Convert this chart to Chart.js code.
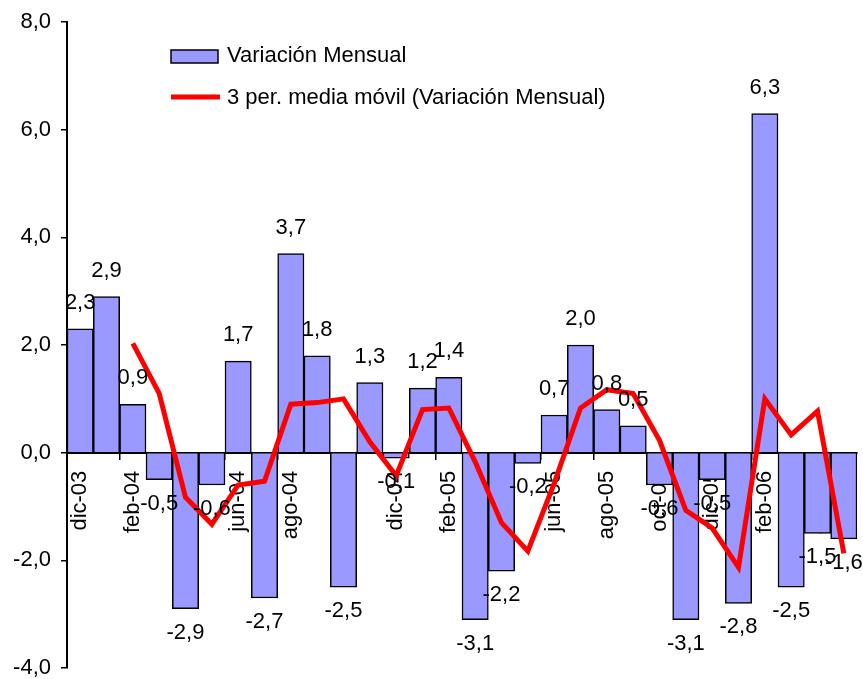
<!DOCTYPE html>
<html>
<head>
<meta charset="utf-8">
<script src="https://cdn.jsdelivr.net/npm/chart.js@4/dist/chart.umd.min.js"></script>
<style>
  html, body { margin: 0; padding: 0; background: #fff; }
  #wrap { width: 863px; height: 679px; position: relative; }
</style>
</head>
<body>
<div id="wrap"><canvas id="c" width="863" height="679"></canvas></div>
<script>
const categories = ['dic-03','ene-04','feb-04','mar-04','abr-04','may-04','jun-04','jul-04','ago-04','sep-04','oct-04','nov-04',
  'dic-04','ene-05','feb-05','mar-05','abr-05','may-05','jun-05','jul-05','ago-05','sep-05','oct-05','nov-05',
  'dic-05','ene-06','feb-06','mar-06','abr-06','may-06'];
const monthly = [2.3, 2.9, 0.9, -0.5, -2.9, -0.6, 1.7, -2.7, 3.7, 1.8, -2.5, 1.3,
  -0.1, 1.2, 1.4, -3.1, -2.2, -0.2, 0.7, 2.0, 0.8, 0.5, -0.6, -3.1,
  -0.5, -2.8, 6.3, -2.5, -1.5, -1.6];
const movingAvg = [null, null, 2.03, 1.10, -0.83, -1.33, -0.60, -0.53, 0.90, 0.93, 1.00, 0.20,
  -0.43, 0.80, 0.83, -0.17, -1.30, -1.83, -0.57, 0.83, 1.17, 1.10, 0.23, -1.07,
  -1.40, -2.13, 1.00, 0.33, 0.77, -1.87];
const seriesNames = ['Variación Mensual', '3 per. media móvil (Variación Mensual)'];
const yTicks = [-4, -2, 0, 2, 4, 6, 8];

const FONT = '"Liberation Sans", Arial, sans-serif';
const fmt = v => v.toFixed(1).replace('.', ',');

const dataLabels = {
  id: 'dataLabels',
  afterDraw(chart) {
    const ctx = chart.ctx;
    const meta = chart.getDatasetMeta(0);
    ctx.save();
    ctx.font = '22px ' + FONT;
    ctx.fillStyle = '#000';
    ctx.textAlign = 'center';
    ctx.textBaseline = 'middle';
    meta.data.forEach((el, i) => {
      const v = monthly[i];
      const y = v >= 0 ? el.y - 26 : el.y + 24;
      ctx.fillText(fmt(v), el.x, y);
    });
    ctx.restore();
  }
};

const customLegend = {
  id: 'customLegend',
  afterDraw(chart) {
    const ctx = chart.ctx;
    const ds = chart.data.datasets;
    ctx.save();
    ctx.font = '22px ' + FONT;
    ctx.textAlign = 'left';
    ctx.textBaseline = 'middle';
    // bar entry
    ctx.fillStyle = ds[0].backgroundColor;
    ctx.fillRect(171, 50, 47, 13);
    ctx.strokeStyle = '#000';
    ctx.lineWidth = 1.5;
    ctx.strokeRect(171, 50, 47, 13);
    ctx.fillStyle = '#000';
    ctx.fillText(ds[0].label, 227, 56);
    // line entry
    ctx.strokeStyle = ds[1].borderColor;
    ctx.lineWidth = 5;
    ctx.beginPath();
    ctx.moveTo(171, 97);
    ctx.lineTo(220, 97);
    ctx.stroke();
    ctx.fillText(ds[1].label, 227, 98);
    ctx.restore();
  }
};

new Chart(document.getElementById('c'), {
  data: {
    labels: categories,
    datasets: [
      {
        type: 'bar',
        label: seriesNames[0],
        data: monthly,
        backgroundColor: '#9999FF',
        borderColor: '#000000',
        borderWidth: 1.5,
        barPercentage: 1,
        categoryPercentage: 1,
        order: 1
      },
      {
        type: 'line',
        label: seriesNames[1],
        data: movingAvg,
        borderColor: '#FF0000',
        borderWidth: 5,
        pointRadius: 0,
        tension: 0,
        fill: false,
        order: 0
      }
    ]
  },
  options: {
    responsive: false,
    animation: false,
    devicePixelRatio: 1,
    layout: { padding: { left: 0, top: 22, right: 6, bottom: 11 } },
    plugins: { legend: { display: false }, tooltip: { enabled: false } },
    scales: {
      x: {
        position: { y: 0 },
        z: 1,
        offset: true,
        grid: {
          display: true,
          offset: true,
          drawOnChartArea: false,
          drawTicks: true,
          tickLength: 6,
          lineWidth: 1.5,
          color: c => (c.index % 2 === 0 ? '#000' : 'rgba(0,0,0,0)')
        },
        border: { display: true, color: '#000', width: 2 },
        ticks: {
          autoSkip: false,
          minRotation: 90,
          maxRotation: 90,
          padding: 12,
          color: '#000',
          font: { size: 22, family: FONT, lineHeight: 0.05 },
          callback: function (v, i) { return i % 2 === 0 ? categories[i] : ''; }
        }
      },
      y: {
        min: -4,
        max: 8,
        afterFit: s => { s.width = 67; },
        afterBuildTicks: s => { s.ticks = yTicks.map(v => ({ value: v })); },
        grid: {
          display: true,
          drawOnChartArea: false,
          drawTicks: true,
          tickLength: 6,
          lineWidth: 1.5,
          color: '#000'
        },
        border: { display: true, color: '#000', width: 2 },
        ticks: {
          padding: 10,
          color: '#000',
          font: { size: 22, family: FONT, lineHeight: 0.05 },
          callback: v => fmt(v)
        }
      }
    }
  },
  plugins: [dataLabels, customLegend]
});
</script>
</body>
</html>
